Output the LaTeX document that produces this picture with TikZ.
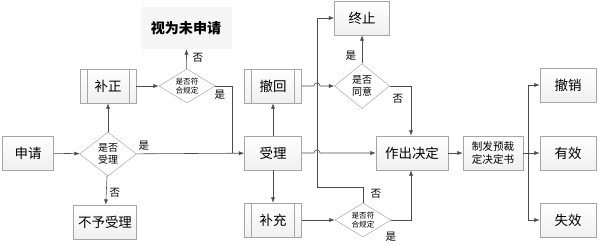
\documentclass[tikz,border=0pt]{standalone}
\usepackage{fontspec}
\setmainfont{Noto Sans CJK SC}
\usepackage{tikz}
\usetikzlibrary{arrows.meta,shapes.geometric}
\tikzset{
  flow line/.style={
    draw=gray!60!black,line width=0.5pt
  },
  flow arrow/.style={
    flow line,-{Latex[length=1.6mm,width=1.2mm]}
  },
  step box/.style={
    rectangle,draw=gray!70,top color=white,bottom color=gray!12,
    minimum width=1.68cm,minimum height=1.02cm,inner sep=1pt,
    font=\fontsize{11.5}{13}\selectfont
  },
  sub box/.style={
    step box,
    path picture={
      \draw[gray!70] ([xshift=0.21cm]path picture bounding box.north west)
        -- ([xshift=0.21cm]path picture bounding box.south west);
      \draw[gray!70] ([xshift=-0.21cm]path picture bounding box.north east)
        -- ([xshift=-0.21cm]path picture bounding box.south east);
    }
  },
  check/.style={
    diamond,draw=gray!70,fill=white,aspect=1.3,inner sep=0pt,
    align=center,font=\fontsize{8.5}{10}\selectfont
  },
  small check/.style={
    check,font=\fontsize{6.5}{8}\selectfont
  },
  tag/.style={
    font=\fontsize{9}{10}\selectfont,inner sep=0pt
  }
}

\begin{document}
\begin{tikzpicture}[x=0.03cm,y=-0.03cm]
  \useasboundingbox (0,0) rectangle (599,244);

  % main boxes
  \node[step box,minimum width=1.53cm] (apply) at (28,153) {申请};
  \node[step box,minimum width=1.89cm] (reject) at (105,222) {不予受理};
  \node[sub box] (fix) at (108,86) {补正};
  \node[rectangle,fill=gray!8,minimum width=2.73cm,minimum height=1.26cm,
    font=\fontsize{12}{14}\selectfont\bfseries] (void) at (186,28) {视为未申请};
  \node[step box,minimum width=1.71cm] (accept) at (273,153) {受理};
  \node[sub box,minimum width=1.71cm] (withdraw) at (273,86) {撤回};
  \node[sub box,minimum width=1.71cm] (supp) at (273,220) {补充};
  \node[step box,minimum width=1.65cm] (stop) at (362,18) {终止};
  \node[step box,minimum width=2.16cm] (decide) at (412,153) {作出决定};
  \node[step box,minimum width=1.8cm,align=center,
    font=\fontsize{9}{11}\selectfont] (issue) at (493,153) {制发预裁\\定决定书};
  \node[step box] (revoke) at (568,85) {撤销};
  \node[step box] (valid) at (568,153) {有效};
  \node[step box] (lapse) at (568,220) {失效};

  % decisions
  \node[check,minimum width=1.71cm,minimum height=1.32cm] (d1) at (108,154) {是否\\受理};
  \node[small check,minimum width=1.68cm,minimum height=0.99cm] (d2) at (187,86) {是否符\\合规定};
  \node[check,minimum width=1.65cm,minimum height=1.35cm] (d3) at (362,86) {是否\\同意};
  \node[small check,minimum width=1.68cm,minimum height=0.99cm] (d4) at (363,220) {是否符\\合规定};

  % connectors
  \draw[flow arrow] (apply) -- (d1);
  \draw[flow arrow] (d1) -- (accept);
  \draw[flow arrow] (d1) -- (reject);
  \draw[flow arrow] (d1) -- (fix);
  \draw[flow arrow] (fix) -- (d2);
  \draw[flow arrow] (d2) -- (void);
  \draw[flow line] (d2.east) -- (232,86) -- (232,153);
  \draw[flow arrow] (accept) -- (withdraw);
  \draw[flow arrow] (accept) -- (supp);
  \draw[flow arrow] (withdraw.east) -- (314,86)
    .. controls (314,82) and (320,82) .. (320,86) -- (d3.west);
  \draw[flow arrow] (accept.east) -- (314,153)
    .. controls (314,149) and (320,149) .. (320,153) -- (decide.west);
  \draw[flow arrow] (d4.north) -- (363,187) -- (317,187) -- (317,18) -- (stop.west);
  \draw[flow arrow] (d3) -- (stop);
  \draw[flow arrow] (d3.east) -- (411,86) -- (decide.north -| 411,0);
  \draw[flow arrow] (supp) -- (d4);
  \draw[flow arrow] (d4.east) -- (411,220) -- (decide.south -| 411,0);
  \draw[flow arrow] (decide) -- (issue);
  \draw[flow line] (issue.east) -- (528,153);
  \draw[flow line] (528,86) -- (528,220);
  \foreach \t in {revoke,valid,lapse}
    \draw[flow arrow] (\t.west -| 528,0) -- (\t.west);

  % labels
  \node[tag] (l1) at (144,146) {是};
  \node[tag] (l2) at (115,193) {否};
  \node[tag] (l3) at (198,58) {否};
  \node[tag] (l4) at (220,95) {是};
  \node[tag] (l5) at (351,56) {是};
  \node[tag] (l6) at (398,99) {否};
  \node[tag] (l7) at (376,194) {否};
  \node[tag] (l8) at (391,237) {是};
\end{tikzpicture}
\end{document}
